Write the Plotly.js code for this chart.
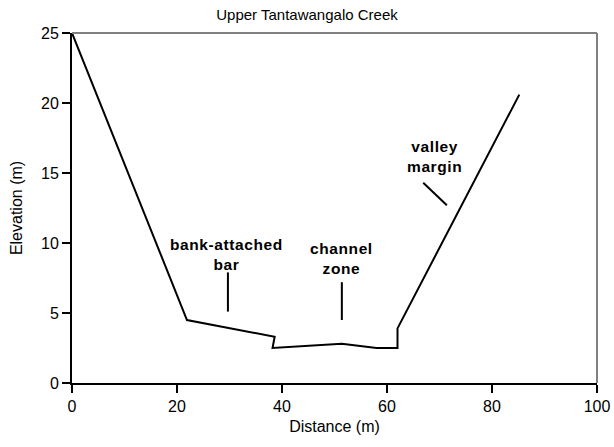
<!DOCTYPE html>
<html><head><meta charset="utf-8">
<script src="https://cdn.plot.ly/plotly-3.0.1.min.js"></script>
<style>html,body{margin:0;padding:0;background:#fff}
.annotation-text{letter-spacing:0.6px}</style>
</head><body><div id="chart" style="width:614px;height:447px"></div>
<script>
const distance = [0, 21.9, 38.6, 38.2, 51.4, 58.0, 62.0, 62.0, 85.2];
const elevation = [25, 4.5, 3.3, 2.5, 2.8, 2.5, 2.5, 3.9, 20.6];
const labels = ["bank-attached<br>bar", "channel<br>zone", "valley<br>margin"];
const labelX = [29.5, 51.3, 69.0];
const labelY = [9.15, 8.9, 16.2];
const pointerX0 = [29.7, 51.4, 66.9];
const pointerY0 = [7.9, 7.2, 14.3];
const pointerX1 = [29.7, 51.4, 71.4];
const pointerY1 = [5.1, 4.5, 12.7];
const xTicks = [0, 20, 40, 60, 80, 100];
const yTicks = [0, 5, 10, 15, 20, 25];

const traces = [{
  x: distance, y: elevation, mode: 'lines', type: 'scatter',
  line: {color: '#000', width: 2}, hoverinfo: 'skip'
}];
for (let i = 0; i < labels.length; i++) {
  traces.push({x: [pointerX0[i], pointerX1[i]], y: [pointerY0[i], pointerY1[i]], mode: 'lines',
    type: 'scatter', line: {color: '#000', width: 2}, hoverinfo: 'skip'});
}
const annotations = labels.map((t, i) => ({
  x: labelX[i], y: labelY[i], xref: 'x', yref: 'y', text: '<b>' + t + '</b>', showarrow: false,
  font: {family: 'Liberation Sans, Arial, sans-serif', size: 15.5, color: '#000'}, align: 'center'
}));
const layout = {
  width: 614, height: 447, showlegend: false,
  paper_bgcolor: '#fff', plot_bgcolor: '#fff',
  margin: {l: 72, r: 17, t: 33, b: 64},
  font: {family: 'Liberation Sans, Arial, sans-serif', color: '#000'},
  title: {text: 'Upper Tantawangalo Creek', font: {size: 15}, x: 0.5, xanchor: 'center', y: 0.967, yanchor: 'middle'},
  xaxis: {range: [0, 100], tickvals: xTicks, ticks: 'outside', ticklen: 8, tickwidth: 2, tickcolor: '#000',
    showline: true, linecolor: '#000', linewidth: 2, showgrid: false, zeroline: false,
    tickfont: {size: 16}, title: {text: 'Distance (m)', font: {size: 16}, standoff: 7}},
  yaxis: {range: [0, 25], tickvals: yTicks, ticks: 'outside', ticklen: 8, tickwidth: 2, tickcolor: '#000',
    showline: true, linecolor: '#000', linewidth: 2, showgrid: false, zeroline: false,
    tickfont: {size: 16}, title: {text: 'Elevation (m)', font: {size: 16}, standoff: 14}},
  shapes: [
    {type: 'line', xref: 'paper', yref: 'paper', x0: 0, x1: 1, y0: 1, y1: 1, line: {color: '#808080', width: 2}},
    {type: 'line', xref: 'paper', yref: 'paper', x0: 1, x1: 1, y0: 0, y1: 1, line: {color: '#808080', width: 2}}
  ],
  annotations: annotations
};
Plotly.newPlot('chart', traces, layout, {displayModeBar: false, staticPlot: true});
</script></body></html>
